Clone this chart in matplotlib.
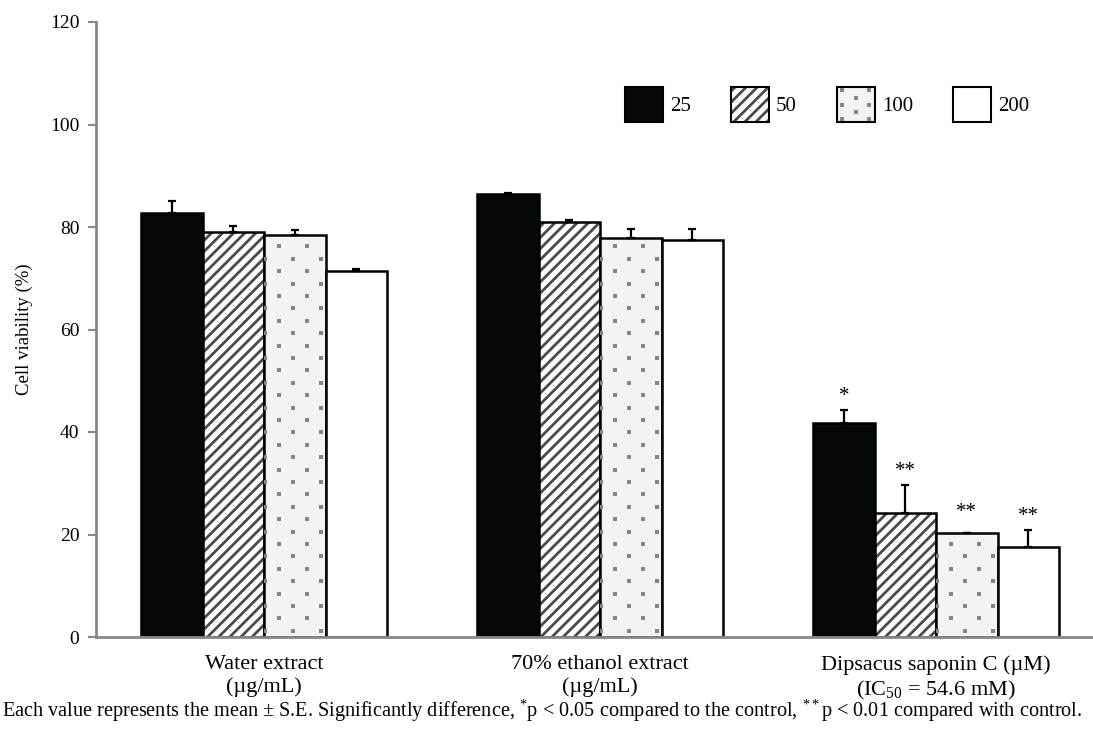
import numpy as np
import matplotlib
matplotlib.use("Agg")
import matplotlib.pyplot as plt
from matplotlib.patches import Patch, Rectangle
from matplotlib.lines import Line2D
from matplotlib.legend_handler import HandlerBase

plt.rcParams['font.family'] = ['Liberation Serif', 'DejaVu Serif']
plt.rcParams['mathtext.fontset'] = 'custom'
plt.rcParams['mathtext.rm'] = 'Liberation Serif'
plt.rcParams['mathtext.it'] = 'Liberation Serif:italic'
plt.rcParams['mathtext.bf'] = 'Liberation Serif:bold'
plt.rcParams['hatch.linewidth'] = 2.0

# 数据
groups = ['Water extract\n(µg/mL)', '70% ethanol extract\n(µg/mL)',
          'Dipsacus saponin C (µM)\n(IC$_{50}$ = 54.6 mM)']
doses = ['25', '50', '100', '200']
v25 = [82.7, 86.4, 41.8]
v50 = [79.1, 81.0, 24.1]
v100 = [78.5, 77.9, 20.2]
v200 = [71.4, 77.5, 17.6]
e25 = [2.4, 0.2, 2.5]
e50 = [1.1, 0.4, 5.6]
e100 = [0.9, 1.7, 0.0]
e200 = [0.5, 2.1, 3.3]
sig25 = ['', '', '*']
sig50 = ['', '', '**']
sig100 = ['', '', '**']
sig200 = ['', '', '**']

values = [v25, v50, v100, v200]
errors = [e25, e50, e100, e200]
sigs = [sig25, sig50, sig100, sig200]

# 填充样式：黑色、斜线、点、白色
faces = ['#050808', 'white', '#f3f3f3', 'white']
hatches = [None, '///', None, None]
DOT_COLOR = '#858585'


class DotBoxHandler(HandlerBase):
    # 图例中的点状方块
    def create_artists(self, legend, orig_handle, xdescent, ydescent,
                       width, height, fontsize, trans):
        r = Rectangle((-xdescent, -ydescent), width, height, facecolor=faces[2],
                      edgecolor='black', linewidth=1.5, transform=trans)
        xs, ys = [], []
        for k, fy in enumerate([0.9, 0.7, 0.5, 0.3, 0.1]):
            cols = [0.15, 0.85] if k % 2 == 0 else [0.5]
            for fx in cols:
                xs.append(-xdescent + fx * width)
                ys.append(-ydescent + fy * height)
        d = Line2D(xs, ys, ls='none', marker='s', ms=2.2, color=DOT_COLOR,
                   markeredgewidth=0, transform=trans)
        return [r, d]


fig = plt.figure(figsize=(10.93, 7.34), dpi=100)
ax = fig.add_axes([96 / 1093, 97 / 734, 1 - 96 / 1093, 615 / 734])

x = np.arange(len(groups))
w = 0.183
offsets = [-1.5, -0.5, 0.5, 1.5]

handles = []
for i in range(4):
    pos = x + offsets[i] * w
    bars = ax.bar(pos, values[i], w, facecolor=faces[i], hatch=hatches[i],
                  edgecolor='black', linewidth=1.8, zorder=2)
    if i == 1:
        for b in bars:
            b._hatch_color = matplotlib.colors.to_rgba('#4a4a4a')
    if i == 2:
        # 点状纹理（交错排列），裁剪到柱子内部
        dx, dy = w / 2.2, 2.42
        for b in bars:
            x0, top = b.get_x(), b.get_height()
            xs, ys = [], []
            for k, yy in enumerate(np.arange(dy / 2, top, dy)):
                start = x0 + (dx / 2 + 0.003 if k % 2 else 0.004)
                for xx in np.arange(start, x0 + w, dx):
                    xs.append(xx)
                    ys.append(yy)
            ln, = ax.plot(xs, ys, ls='none', marker='s', ms=2.6, color=DOT_COLOR,
                          markeredgewidth=0, zorder=2.5)
            ln.set_clip_path(b)
    ax.errorbar(pos, values[i], yerr=[np.zeros(3), errors[i]], fmt='none',
                ecolor='black', elinewidth=1.6, capsize=3, capthick=1.6, zorder=3)
    for j in range(3):
        if sigs[i][j]:
            ax.text(pos[j], values[i][j] + max(errors[i][j], 1.5) + 2.6, sigs[i][j],
                    ha='center', va='center', fontsize=15)
    p = Patch(facecolor=faces[i], hatch=hatches[i], edgecolor='black',
              linewidth=1.5, label=doses[i])
    if i == 1:
        p._hatch_color = matplotlib.colors.to_rgba('#4a4a4a')
    handles.append(p)

ax.set_xlim(-0.5, 2.467)
ax.set_ylim(0, 120)
ax.set_yticks([0, 20, 40, 60, 80, 100, 120])
ax.set_xticks(x)
ax.set_xticklabels(groups, fontsize=16, linespacing=1.25)
ax.tick_params(axis='x', length=0, pad=13)
ax.tick_params(axis='y', direction='out', length=6, width=1.5, color='#888888',
               labelsize=14, pad=6)
ax.set_ylabel('Cell viability (%)', fontsize=13.5, labelpad=12)

for s in ['top', 'right']:
    ax.spines[s].set_visible(False)
for s in ['left', 'bottom']:
    ax.spines[s].set_color('#888888')
    ax.spines[s].set_linewidth(2)

ax.legend(handles=handles, loc='upper left', bbox_to_anchor=(0.5116, 0.925), ncol=4,
          frameon=False, fontsize=15, handlelength=1.83, handleheight=2.25,
          columnspacing=1.9, handletextpad=0.35,
          handler_map={handles[2]: DotBoxHandler()})

fig.text(0.002, 0.032, 'Each value represents the mean ± S.E. Significantly difference, '
         '$^{*}$p < 0.05 compared to the control, $^{**}$p < 0.01 compared with control.',
         fontsize=14.6, ha='left', va='center')

plt.savefig('out.png', dpi=100)
